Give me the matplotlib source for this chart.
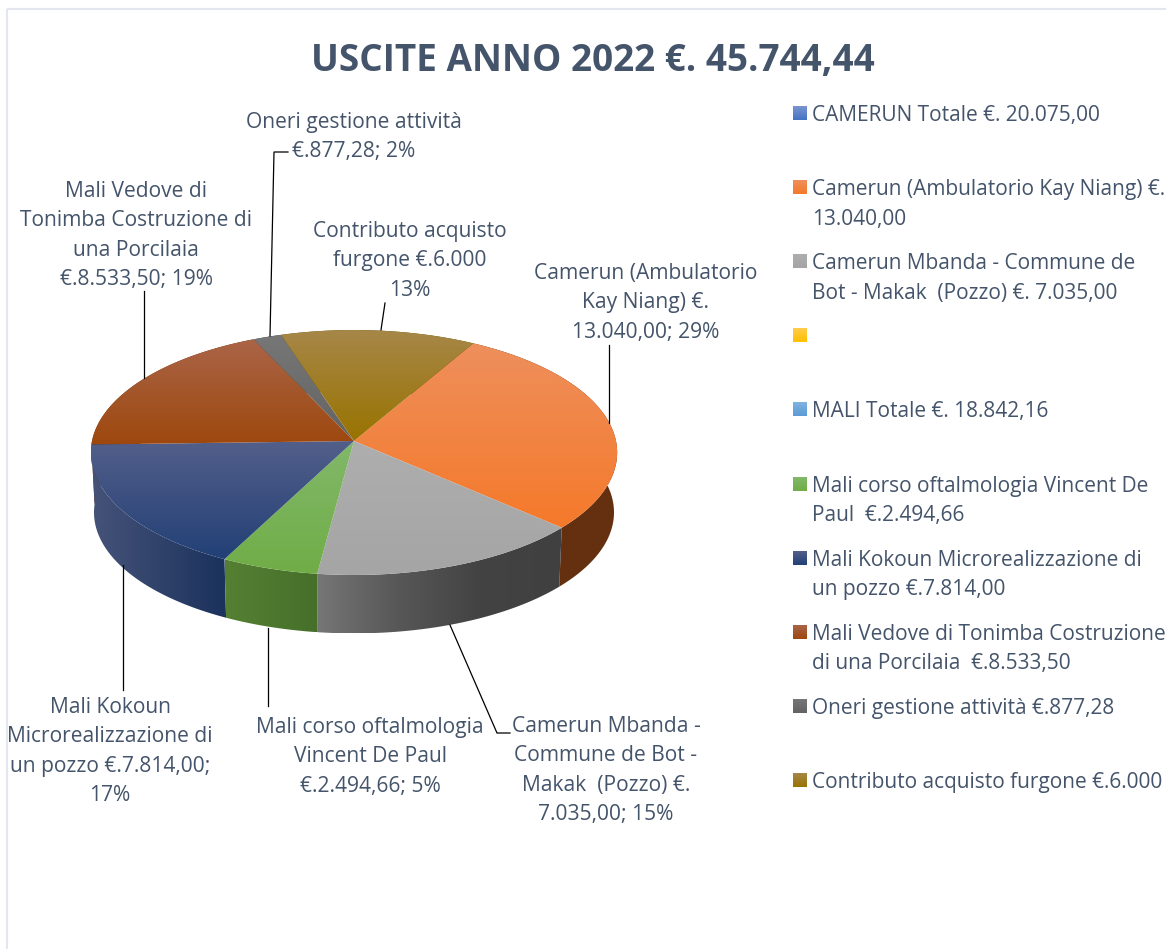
import numpy as np
import matplotlib
matplotlib.use('Agg')
import matplotlib.pyplot as plt
from matplotlib.colors import LinearSegmentedColormap
from matplotlib.patches import Polygon, Rectangle

# dati
title = 'USCITE ANNO 2022 €. 45.744,44'
slice_values = [13040.00, 7035.00, 2494.66, 7814.00, 8533.50, 877.28, 6000.00]
slice_labels = [
    ['Camerun (Ambulatorio', 'Kay Niang) €.', '13.040,00; 29%'],
    ['Camerun Mbanda -', 'Commune de Bot -', 'Makak  (Pozzo) €.', '7.035,00; 15%'],
    ['Mali corso oftalmologia', 'Vincent De Paul', '€.2.494,66; 5%'],
    ['Mali Kokoun', 'Microrealizzazione di', 'un pozzo €.7.814,00;', '17%'],
    ['Mali Vedove di', 'Tonimba Costruzione di', 'una Porcilaia', '€.8.533,50; 19%'],
    ['Oneri gestione attività', '€.877,28; 2%'],
    ['Contributo acquisto', 'furgone €.6.000', '13%'],
]
legend_labels = [
    ['CAMERUN Totale €. 20.075,00'],
    ['Camerun (Ambulatorio Kay Niang) €.', '13.040,00'],
    ['Camerun Mbanda - Commune de', 'Bot - Makak  (Pozzo) €. 7.035,00'],
    [],
    ['MALI Totale €. 18.842,16'],
    ['Mali corso oftalmologia Vincent De', 'Paul  €.2.494,66'],
    ['Mali Kokoun Microrealizzazione di', 'un pozzo €.7.814,00'],
    ['Mali Vedove di Tonimba Costruzione', 'di una Porcilaia  €.8.533,50'],
    ['Oneri gestione attività €.877,28'],
    ['Contributo acquisto furgone €.6.000'],
]

# colori: (alto, basso) faccia superiore, (sinistra, destra) parete
top_colors = [('#EE8F5C', '#F5792A'), ('#AEAEAE', '#A5A5A5'), ('#82B86A', '#70AD47'),
              ('#535F8A', '#224076'), ('#AA6548', '#9E480E'), ('#777777', '#636363'),
              ('#A68748', '#997300')]
wall_colors = [('#64300F', '#64300F'), ('#767676', '#575757', '#434343', '#404040'), ('#558033', '#466F2A'),
               ('#465379', '#1A325C'), ('#6A300A', '#6A300A'), ('#444444', '#444444'),
               ('#665000', '#665000')]
legend_colors = [('#7A95D0', '#4472C4'), ('#EE8F5C', '#F5792A'), ('#AEAEAE', '#A5A5A5'),
                 ('#FFCC4D', '#FFC000'), ('#7FB4E0', '#5B9BD5'), ('#82B86A', '#70AD47'),
                 ('#535F8A', '#224076'), ('#AA6548', '#9E480E'), ('#777777', '#636363'),
                 ('#A68748', '#997300')]

TEXT = '#44546A'
plt.rcParams['font.family'] = ['Open Sans', 'DejaVu Sans']

fig = plt.figure(figsize=(11.66, 9.49), dpi=100)
ax = fig.add_axes([0, 0, 1, 1])


def project(t, dy=0.0, shrink=1.0):
    """prospettiva del disco, t in gradi"""
    t = np.radians(t)
    d = 1 + 0.094 * np.sin(t)
    x = 354 + 262 * shrink * np.cos(t) / d
    y = 441 + dy - 121.4 * shrink * np.sin(t) / d
    return x, y


def gradient_patch(pts, colors, horizontal=False, zorder=2):
    pts = np.array(pts)
    cmap = LinearSegmentedColormap.from_list('g', list(colors))
    x0, x1 = pts[:, 0].min(), pts[:, 0].max()
    y0, y1 = pts[:, 1].min(), pts[:, 1].max()
    grad = np.linspace(0, 1, 256).reshape(1, -1) if horizontal else np.linspace(0, 1, 256).reshape(-1, 1)
    im = ax.imshow(grad, cmap=cmap, extent=(x0, x1, y1, y0), aspect='auto', interpolation='bilinear', zorder=zorder)
    clip = Polygon(pts, closed=True, transform=ax.transData, facecolor='none', edgecolor='none')
    ax.add_patch(clip)
    im.set_clip_path(clip)


# spicchi in senso orario
total = sum(slice_values)
angle = 60.5
slices = []
for v in slice_values:
    span = v / total * 360
    slices.append((angle - span, angle))
    angle -= span

# pareti: prima quelle dietro
order = sorted(range(len(slices)), key=lambda k: -np.sin(np.radians(sum(slices[k]) / 2)))
for k in order:
    a, b = slices[k]
    t = np.linspace(a, b, 80)
    xt, yt = project(t)
    xb, yb = project(t, dy=60, shrink=0.988)
    pts = list(zip(xt, yt)) + list(zip(xb[::-1], yb[::-1]))
    gradient_patch(pts, wall_colors[k], horizontal=True)

for (a, b), colors in zip(slices, top_colors):
    t = np.linspace(a, b, 120)
    xt, yt = project(t)
    pts = [(354, 441)] + list(zip(xt, yt))
    gradient_patch(pts, colors, zorder=2.5)

# linee guida
leaders = [
    ([609, 609], [423, 345]),
    ([450, 497, 510], [625, 733, 733]),
    ([268, 268], [628, 706]),
    ([123, 123], [565, 690]),
    ([144, 144], [378, 291]),
    ([270, 274, 288], [336, 152, 152]),
    ([381, 385], [330, 303]),
]
for xs, ys in leaders:
    ax.plot(xs, ys, color='black', lw=0.9, zorder=3, solid_joinstyle='miter')

# etichette: centro x e y della prima riga
label_pos = [(646, 271), (606, 724), (370, 725), (110, 705), (136, 189), (354, 120), (410, 229)]
for lines, (cx, y0) in zip(slice_labels, label_pos):
    for i, line in enumerate(lines):
        ax.text(cx, y0 + 8 + i * 29.4, line, ha='center', va='baseline', fontsize=15.1, color=TEXT, zorder=4)

# legenda
for i, (lines, colors) in enumerate(zip(legend_labels, legend_colors)):
    y = 113 + i * 74.1
    gradient_patch([(793, y - 7), (807, y - 7), (807, y + 7), (793, y + 7)], colors)
    for j, line in enumerate(lines):
        ax.text(812, y + 8 + j * 29.4, line, ha='left', va='baseline', fontsize=15, color=TEXT, zorder=4,
                clip_on=True)

ax.text(593, 71, title, ha='center', va='baseline', fontsize=26.6, fontweight='bold', color=TEXT, zorder=4)

# bordo del grafico
ax.add_patch(Rectangle((7, 9), 1300, 1100, facecolor='none', edgecolor='#E3E6EE', lw=1.5, zorder=1))

ax.set_xlim(0, 1166)
ax.set_ylim(949, 0)
ax.axis('off')

fig.savefig('out.png', dpi=100, facecolor='white')
